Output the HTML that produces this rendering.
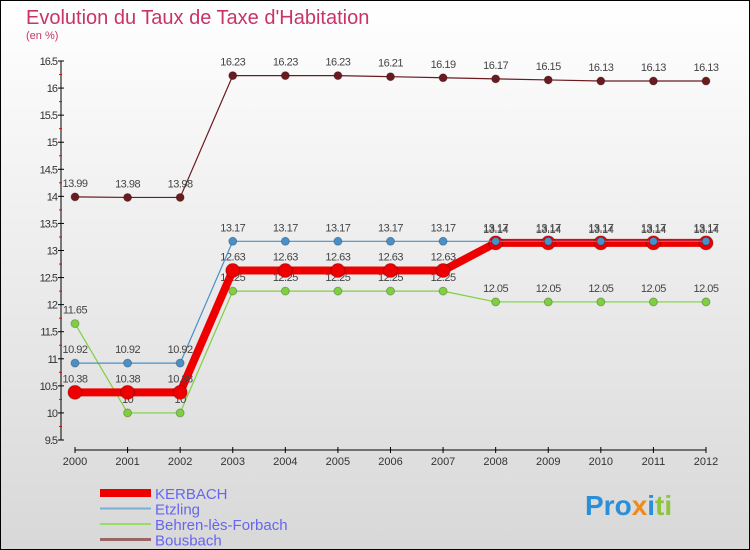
<!DOCTYPE html>
<html><head><meta charset="utf-8"><style>
body{margin:0}
svg{display:block;font-family:"Liberation Sans",sans-serif}
</style></head><body>
<svg width="750" height="550" xmlns="http://www.w3.org/2000/svg">
<defs><linearGradient id="bg" x1="0" y1="0" x2="0" y2="1"><stop offset="0" stop-color="#ffffff"/><stop offset="1" stop-color="#d8d8d8"/></linearGradient></defs>
<rect x="0.5" y="0.5" width="749" height="549" fill="url(#bg)" stroke="#000"/>
<text x="26" y="24" font-size="20" fill="#c8336a">Evolution du Taux de Taxe d'Habitation</text>
<text x="26" y="39" font-size="11" fill="#c8336a">(en %)</text>
<g id="axes"></g>
<g id="series"></g>
<g id="legend"></g>
<text x="585" y="515" font-size="28" font-weight="bold"><tspan fill="#2a8fd8">Pro</tspan><tspan fill="#f08a1c">x</tspan><tspan fill="#2a8fd8">i</tspan><tspan fill="#8cc63f">ti</tspan></text>
</svg>
<script>
const years=[2000,2001,2002,2003,2004,2005,2006,2007,2008,2009,2010,2011,2012];
const kerbach=[10.38,10.38,10.38,12.63,12.63,12.63,12.63,12.63,13.14,13.14,13.14,13.14,13.14];
const etzling=[10.92,10.92,10.92,13.17,13.17,13.17,13.17,13.17,13.17,13.17,13.17,13.17,13.17];
const behren=[11.65,10,10,12.25,12.25,12.25,12.25,12.25,12.05,12.05,12.05,12.05,12.05];
const bousbach=[13.99,13.98,13.98,16.23,16.23,16.23,16.21,16.19,16.17,16.15,16.13,16.13,16.13];
const yTicks=[9.5,10,10.5,11,11.5,12,12.5,13,13.5,14,14.5,15,15.5,16,16.5];
const NS="http://www.w3.org/2000/svg";
const X=i=>75+i*(631/12);
const Y=v=>440-(v-9.5)*(379/7);
function mk(t,a,p){const e=document.createElementNS(NS,t);for(const k in a)e.setAttribute(k,a[k]);p.appendChild(e);return e;}
const ax=document.getElementById('axes');
const yl=mk('line',{x1:61,y1:Y(16.5),x2:61,y2:Y(9.5),stroke:'#000'},ax);


yTicks.forEach((v,k)=>{
 mk('line',{x1:58,x2:64,y1:Y(v),y2:Y(v),stroke:'#000'},ax);
 if(k<yTicks.length-1) mk('line',{x1:59,x2:62,y1:Y(v+0.25),y2:Y(v+0.25),stroke:'#e00'},ax);
 const t=mk('text',{x:57,y:Y(v)+4,'font-size':11,'text-anchor':'end',fill:'#333','letter-spacing':'-1'},ax);t.textContent=v;
 
 
});
const xl=mk('line',{x1:X(0),x2:X(12),y1:450,y2:450,stroke:'#000'},ax);


years.forEach((y,i)=>{
 mk('line',{x1:X(i),x2:X(i),y1:447,y2:453,stroke:'#000'},ax);
 const t=mk('text',{x:X(i),y:465,'font-size':11,'text-anchor':'middle',fill:'#333'},ax);t.textContent=y;
 
 
});
const sg=document.getElementById('series');
function series(d,color,w,r,name,labels){
 const g=mk('g',{},sg);
 
 
 mk('polyline',{points:d.map((v,i)=>X(i)+','+Y(v)).join(' '),fill:'none',stroke:color,'stroke-width':w,'stroke-linejoin':'round'},g);
 d.forEach((v,i)=>{
  const c=mk('circle',{cx:X(i),cy:Y(v),r:r,fill:color,stroke:'rgba(0,0,0,0.25)'},g);
  
  
  if(labels){const t=mk('text',{x:X(i),y:Y(v)-10,'font-size':11,'text-anchor':'middle',fill:'#444','letter-spacing':'-0.5'},g);t.textContent=v;
  
  }
 });
}
series(bousbach,'#6b1a1f',1.2,4,'bousbach',true);
series(behren,'#7fd040',1.2,4,'behren',true);
series(kerbach,'#ee0000',8,7,'kerbach',true);
series(etzling,'#4a90c8',1.2,4,'etzling',true);
const lg=document.getElementById('legend');
[['KERBACH','#ee0000',8],['Etzling','#7aaed4',2],['Behren-lès-Forbach','#99dd66',2],['Bousbach','#996666',3]].forEach((e,i)=>{
 const y=493+i*15.5;
 const l=mk('line',{x1:100,x2:151,y1:y,y2:y,stroke:e[1],'stroke-width':e[2]},lg);
 
 
 const t=mk('text',{x:155,y:y+6,'font-size':15,fill:'#6666ee'},lg);t.textContent=e[0];
 
 
});
</script>
</body></html>
